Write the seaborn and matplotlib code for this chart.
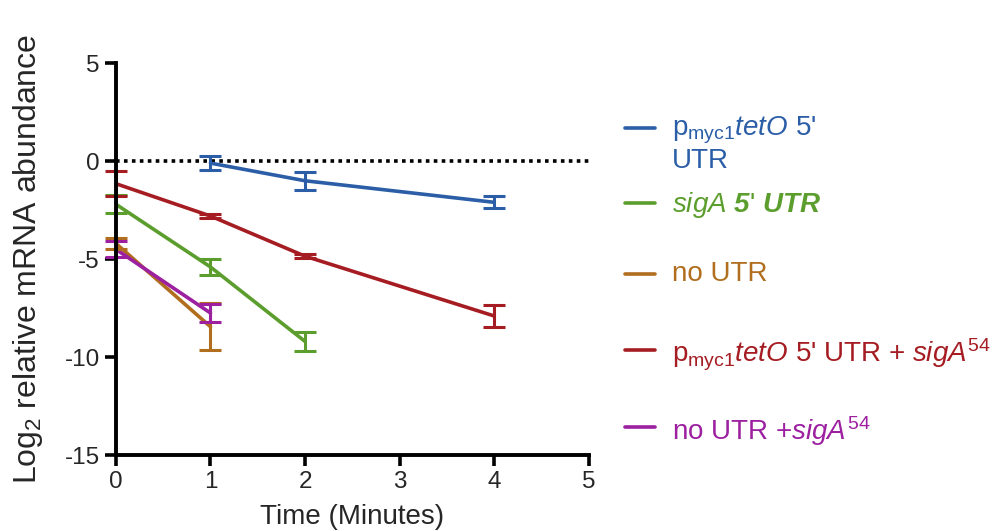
import matplotlib
matplotlib.use("Agg")
import matplotlib.pyplot as plt
import pandas as pd
import seaborn as sns

# values (mean, error)
constructs = ["pmyc1tetO 5' UTR", "sigA 5' UTR", "no UTR",
              "pmyc1tetO 5' UTR + sigA54", "no UTR +sigA54"]
times = {
    "pmyc1tetO 5' UTR": [1, 2, 4],
    "sigA 5' UTR": [0, 1, 2],
    "no UTR": [0, 1],
    "pmyc1tetO 5' UTR + sigA54": [0, 1, 2, 4],
    "no UTR +sigA54": [0, 1],
}
means = {
    "pmyc1tetO 5' UTR": [-0.1, -1.0, -2.1],
    "sigA 5' UTR": [-2.2, -5.4, -9.2],
    "no UTR": [-4.2, -8.45],
    "pmyc1tetO 5' UTR + sigA54": [-1.15, -2.8, -4.85, -7.9],
    "no UTR +sigA54": [-4.5, -7.75],
}
errors = {
    "pmyc1tetO 5' UTR": [0.35, 0.45, 0.3],
    "sigA 5' UTR": [0.45, 0.4, 0.47],
    "no UTR": [0.3, 1.2],
    "pmyc1tetO 5' UTR + sigA54": [0.65, 0.1, 0.1, 0.55],
    "no UTR +sigA54": [0.4, 0.45],
}
colors = ["#2b5ea7", "#5c9e2e", "#b06e1e", "#a51d22", "#9c20a0"]
legend_labels = [
    r"p$_{\mathrm{myc1}}$$\mathit{tetO}$ 5'" + "\nUTR",
    r"$\mathit{sigA}$ $\mathbfit{5}$'$\mathbfit{\ UTR}$",
    "no UTR",
    r"p$_{\mathrm{myc1}}$$\mathit{tetO}$ 5' UTR + $\mathit{sigA}^{\mathit{54}}$",
    r"no UTR +$\mathit{sigA}^{\mathit{54}}$",
]
# legend rows (pixel y of each entry's first line)
legend_y = [128, 203, 274, 350, 427]

rows = []
for c in constructs:
    for t, m, e in zip(times[c], means[c], errors[c]):
        rows.append({"time": t, "value": m, "err": e, "construct": c})
df = pd.DataFrame(rows)

sns.set_style("ticks")
plt.rcParams["font.family"] = ["Liberation Sans", "DejaVu Sans"]
plt.rcParams["mathtext.fontset"] = "custom"
plt.rcParams["mathtext.rm"] = "Liberation Sans"
plt.rcParams["mathtext.it"] = "Liberation Sans:italic"
plt.rcParams["mathtext.bf"] = "Liberation Sans:bold"
plt.rcParams["mathtext.bfit"] = "Liberation Sans:italic:bold"
plt.rcParams["axes.unicode_minus"] = False

fig = plt.figure(figsize=(10.08, 5.31), dpi=100)
ax = fig.add_axes([0.115, 0.143, 0.469, 0.738])

palette = dict(zip(constructs, colors))
ax.axhline(0, color="black", linestyle=(0, (1, 1.2)), linewidth=2.6, zorder=1)

sns.lineplot(data=df, x="time", y="value", hue="construct", hue_order=constructs,
             palette=palette, linewidth=2.6, ax=ax, legend=False, zorder=3)
for c in constructs:
    sub = df[df["construct"] == c]
    eb = ax.errorbar(sub["time"], sub["value"], yerr=sub["err"], fmt="none",
                     ecolor=palette[c], elinewidth=2.2, capsize=8, capthick=2.2,
                     zorder=3)
    for art in eb.lines[1] + eb.lines[2]:
        art.set_clip_on(False)

ax.set_xlim(0, 5)
ax.set_ylim(-15, 5)
ax.set_xticks([0, 1, 2, 3, 4, 5])
ax.set_yticks([-15, -10, -5, 0, 5])
ax.tick_params(axis="both", labelsize=17.5, width=2.6, length=8, color="black")
ax.set_xlabel("Time (Minutes)", fontsize=20, labelpad=8)
ax.set_ylabel(r"Log$_2$ relative mRNA abundance", fontsize=23)
ax.yaxis.set_label_coords(-0.15, 0.5)
sns.despine(ax=ax)
for s in ["left", "bottom"]:
    ax.spines[s].set_linewidth(2.8)
    ax.spines[s].set_color("black")
ax.spines["left"].set_zorder(4)

# legend drawn as line + text rows, like the original layout
for lab, col, y in zip(legend_labels, colors, legend_y):
    yf = 1 - y / 531
    fig.add_artist(plt.Line2D([625 / 1008, 655 / 1008], [yf, yf], color=col,
                              linewidth=2.6, transform=fig.transFigure))
    fig.text(672 / 1008, yf + 13 / 531, lab, color=col, fontsize=20,
             va="top", ha="left", linespacing=1.1)

fig.savefig("out.png", dpi=100)
